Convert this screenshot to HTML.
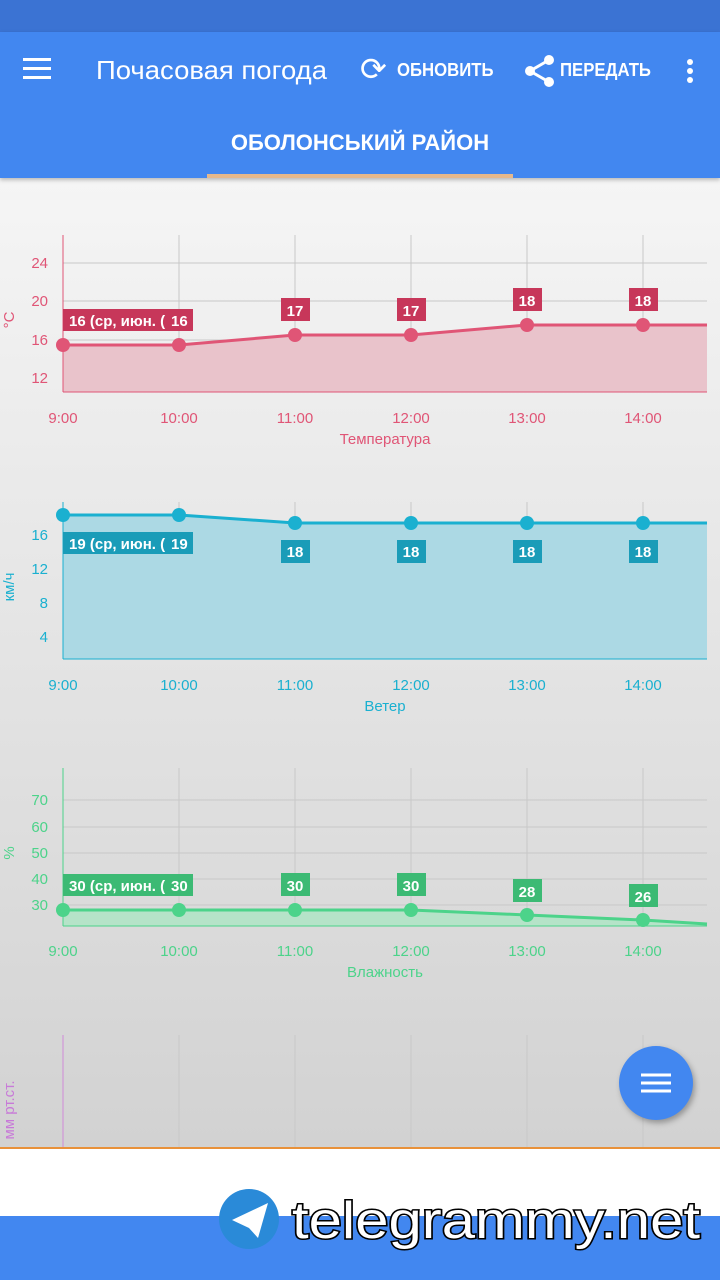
<!DOCTYPE html><html><head><meta charset="utf-8"><style>
body{margin:0;width:720px;height:1280px;overflow:hidden;font-family:"Liberation Sans",sans-serif;position:relative;background:linear-gradient(#f5f5f5 180px,#d2d2d2 1148px)}
.top{position:absolute;left:0;top:0;width:720px;height:32px;background:#3b73d3}
.bar{position:absolute;left:0;top:32px;width:720px;height:146px;background:#4287f0;color:#fff;box-shadow:0 2px 4px rgba(0,0,0,.25)}
</style></head><body>
<div class="top"></div>
<div class="bar">
<div style="position:absolute;left:23px;top:26px;width:28px;height:3px;background:#fff;box-shadow:0 9px 0 #fff,0 18px 0 #fff"></div>
<svg style="position:absolute;left:96px;top:20px" width="240" height="40"><text x="0" y="27" font-size="26" fill="#fff" textLength="231" lengthAdjust="spacingAndGlyphs" font-family="Liberation Sans, sans-serif">Почасовая погода</text></svg>
<div style="position:absolute;left:360px;top:18px;font-size:32px">⟳</div>
<div style="position:absolute;left:397px;top:28px;font-size:18px;font-weight:bold;transform:scaleX(.93);transform-origin:left">ОБНОВИТЬ</div>
<svg style="position:absolute;left:524px;top:22px" width="32" height="34"><circle cx="25" cy="6" r="5" fill="#fff"/><circle cx="6" cy="17" r="5" fill="#fff"/><circle cx="25" cy="28" r="5" fill="#fff"/><path d="M25 6L6 17L25 28" stroke="#fff" stroke-width="3" fill="none"/></svg>
<div style="position:absolute;left:560px;top:28px;font-size:18px;font-weight:bold;transform:scaleX(.93);transform-origin:left">ПЕРЕДАТЬ</div>
<div style="position:absolute;left:687px;top:27px;width:6px;height:6px;border-radius:3px;background:#fff;box-shadow:0 9px 0 #fff,0 18px 0 #fff"></div>
<div style="position:absolute;left:0;width:720px;text-align:center;top:98px;font-size:22px;font-weight:bold">ОБОЛОНСЬКИЙ РАЙОН</div>
<div style="position:absolute;left:207px;top:142px;width:306px;height:4px;background:#e5b88c"></div>
</div>
<svg width="720" height="1280" style="position:absolute;left:0;top:0" font-family="Liberation Sans, sans-serif">
<g stroke="#c8c8c8" stroke-width="1">
<line x1="179" y1="235" x2="179" y2="392"/><line x1="295" y1="235" x2="295" y2="392"/><line x1="411" y1="235" x2="411" y2="392"/><line x1="527" y1="235" x2="527" y2="392"/><line x1="643" y1="235" x2="643" y2="392"/>
<line x1="63" y1="263" x2="707" y2="263"/><line x1="63" y1="301" x2="707" y2="301"/><line x1="63" y1="340" x2="707" y2="340"/><line x1="63" y1="378" x2="707" y2="378"/>
<line x1="179" y1="502" x2="179" y2="659"/><line x1="295" y1="502" x2="295" y2="659"/><line x1="411" y1="502" x2="411" y2="659"/><line x1="527" y1="502" x2="527" y2="659"/><line x1="643" y1="502" x2="643" y2="659"/>
<line x1="63" y1="535" x2="707" y2="535"/><line x1="63" y1="569" x2="707" y2="569"/><line x1="63" y1="603" x2="707" y2="603"/><line x1="63" y1="637" x2="707" y2="637"/>
<line x1="179" y1="768" x2="179" y2="926"/><line x1="295" y1="768" x2="295" y2="926"/><line x1="411" y1="768" x2="411" y2="926"/><line x1="527" y1="768" x2="527" y2="926"/><line x1="643" y1="768" x2="643" y2="926"/>
<line x1="63" y1="800" x2="707" y2="800"/><line x1="63" y1="827" x2="707" y2="827"/><line x1="63" y1="853" x2="707" y2="853"/><line x1="63" y1="879" x2="707" y2="879"/><line x1="63" y1="905" x2="707" y2="905"/>
<line x1="179" y1="1035" x2="179" y2="1147"/><line x1="295" y1="1035" x2="295" y2="1147"/><line x1="411" y1="1035" x2="411" y2="1147"/><line x1="527" y1="1035" x2="527" y2="1147"/><line x1="643" y1="1035" x2="643" y2="1147"/>
</g>
<path d="M63 345L179 345L295 335L411 335L527 325L707 325L707 392L63 392Z" fill="#e9c3cb"/>
<path d="M63 345L179 345L295 335L411 335L527 325L707 325" stroke="#e05576" stroke-width="3" fill="none"/>
<line x1="63" y1="235" x2="63" y2="392" stroke="#e05576"/><line x1="63" y1="392" x2="707" y2="392" stroke="#e05576"/>
<g fill="#e05576"><circle cx="63" cy="345" r="7"/><circle cx="179" cy="345" r="7"/><circle cx="295" cy="335" r="7"/><circle cx="411" cy="335" r="7"/><circle cx="527" cy="325" r="7"/><circle cx="643" cy="325" r="7"/></g>
<g fill="#e05576" font-size="15" text-anchor="end"><text x="48" y="268">24</text><text x="48" y="306">20</text><text x="48" y="345">16</text><text x="48" y="383">12</text></g>
<text transform="translate(14,320) rotate(-90)" fill="#e05576" font-size="15" text-anchor="middle">°C</text>
<g fill="#e05576" font-size="15" text-anchor="middle"><text x="63" y="423">9:00</text><text x="179" y="423">10:00</text><text x="295" y="423">11:00</text><text x="411" y="423">12:00</text><text x="527" y="423">13:00</text><text x="643" y="423">14:00</text><text x="385" y="444">Температура</text></g>
<g fill="#c7375a"><rect x="63" y="309" width="130" height="22"/><rect x="281" y="298" width="29" height="23"/><rect x="397" y="298" width="29" height="23"/><rect x="513" y="288" width="29" height="23"/><rect x="629" y="288" width="29" height="23"/></g>
<g fill="#fff" font-size="15" font-weight="bold"><text x="69" y="326">16 (ср, июн. (</text><text x="171" y="326">16</text><g text-anchor="middle"><text x="295" y="316">17</text><text x="411" y="316">17</text><text x="527" y="306">18</text><text x="643" y="306">18</text></g></g>
<path d="M63 515L179 515L295 523L707 523L707 659L63 659Z" fill="#acd9e4"/>
<path d="M63 515L179 515L295 523L707 523" stroke="#1ab0d0" stroke-width="3" fill="none"/>
<line x1="63" y1="502" x2="63" y2="659" stroke="#1ab0d0"/><line x1="63" y1="659" x2="707" y2="659" stroke="#1ab0d0"/>
<g fill="#1ab0d0"><circle cx="63" cy="515" r="7"/><circle cx="179" cy="515" r="7"/><circle cx="295" cy="523" r="7"/><circle cx="411" cy="523" r="7"/><circle cx="527" cy="523" r="7"/><circle cx="643" cy="523" r="7"/></g>
<g fill="#1ab0d0" font-size="15" text-anchor="end"><text x="48" y="540">16</text><text x="48" y="574">12</text><text x="48" y="608">8</text><text x="48" y="642">4</text></g>
<text transform="translate(14,587) rotate(-90)" fill="#1ab0d0" font-size="15" text-anchor="middle">км/ч</text>
<g fill="#1ab0d0" font-size="15" text-anchor="middle"><text x="63" y="690">9:00</text><text x="179" y="690">10:00</text><text x="295" y="690">11:00</text><text x="411" y="690">12:00</text><text x="527" y="690">13:00</text><text x="643" y="690">14:00</text><text x="385" y="711">Ветер</text></g>
<g fill="#1a9cb8"><rect x="63" y="532" width="130" height="22"/><rect x="281" y="540" width="29" height="23"/><rect x="397" y="540" width="29" height="23"/><rect x="513" y="540" width="29" height="23"/><rect x="629" y="540" width="29" height="23"/></g>
<g fill="#fff" font-size="15" font-weight="bold"><text x="69" y="549">19 (ср, июн. (</text><text x="171" y="549">19</text><g text-anchor="middle"><text x="295" y="557">18</text><text x="411" y="557">18</text><text x="527" y="557">18</text><text x="643" y="557">18</text></g></g>
<path d="M63 910L411 910L527 915L643 920L707 924L707 926L63 926Z" fill="#b5e3c8"/>
<path d="M63 910L411 910L527 915L643 920L707 924" stroke="#4cd38a" stroke-width="3" fill="none"/>
<line x1="63" y1="768" x2="63" y2="926" stroke="#4cd38a"/><line x1="63" y1="926" x2="707" y2="926" stroke="#4cd38a"/>
<g fill="#4cd38a"><circle cx="63" cy="910" r="7"/><circle cx="179" cy="910" r="7"/><circle cx="295" cy="910" r="7"/><circle cx="411" cy="910" r="7"/><circle cx="527" cy="915" r="7"/><circle cx="643" cy="920" r="7"/></g>
<g fill="#4cd38a" font-size="15" text-anchor="end"><text x="48" y="805">70</text><text x="48" y="832">60</text><text x="48" y="858">50</text><text x="48" y="884">40</text><text x="48" y="910">30</text></g>
<text transform="translate(14,853) rotate(-90)" fill="#4cd38a" font-size="15" text-anchor="middle">%</text>
<g fill="#4cd38a" font-size="15" text-anchor="middle"><text x="63" y="956">9:00</text><text x="179" y="956">10:00</text><text x="295" y="956">11:00</text><text x="411" y="956">12:00</text><text x="527" y="956">13:00</text><text x="643" y="956">14:00</text><text x="385" y="977">Влажность</text></g>
<g fill="#3cba74"><rect x="63" y="874" width="130" height="22"/><rect x="281" y="873" width="29" height="23"/><rect x="397" y="873" width="29" height="23"/><rect x="513" y="879" width="29" height="23"/><rect x="629" y="884" width="29" height="23"/></g>
<g fill="#fff" font-size="15" font-weight="bold"><text x="69" y="891">30 (ср, июн. (</text><text x="171" y="891">30</text><g text-anchor="middle"><text x="295" y="891">30</text><text x="411" y="891">30</text><text x="527" y="897">28</text><text x="643" y="902">26</text></g></g>
<line x1="63" y1="1035" x2="63" y2="1147" stroke="#d08ad8"/>
<text transform="translate(14,1110) rotate(-90)" fill="#c87ad8" font-size="15" text-anchor="middle">мм рт.ст.</text>
<rect x="0" y="1147" width="720" height="2" fill="#e8913a"/>
<rect x="0" y="1149" width="720" height="67" fill="#fff"/>
<rect x="0" y="1216" width="720" height="64" fill="#4287f0"/>
<circle cx="656" cy="1083" r="37" fill="#4287f0" style="filter:drop-shadow(2px 3px 3px rgba(0,0,0,.3))"/>
<g stroke="#fff" stroke-width="3"><line x1="641" y1="1075" x2="671" y2="1075"/><line x1="641" y1="1083" x2="671" y2="1083"/><line x1="641" y1="1091" x2="671" y2="1091"/></g>
<circle cx="249" cy="1219" r="30" fill="#2a8ad8"/><path d="M232 1220L268 1203L258 1238L249 1228Z" fill="#fff"/>
<text x="292" y="1238" font-size="52" fill="#fff" stroke="#000" stroke-width="3" paint-order="stroke" textLength="408" lengthAdjust="spacingAndGlyphs">telegrammy.net</text>
</svg>
</body></html>
